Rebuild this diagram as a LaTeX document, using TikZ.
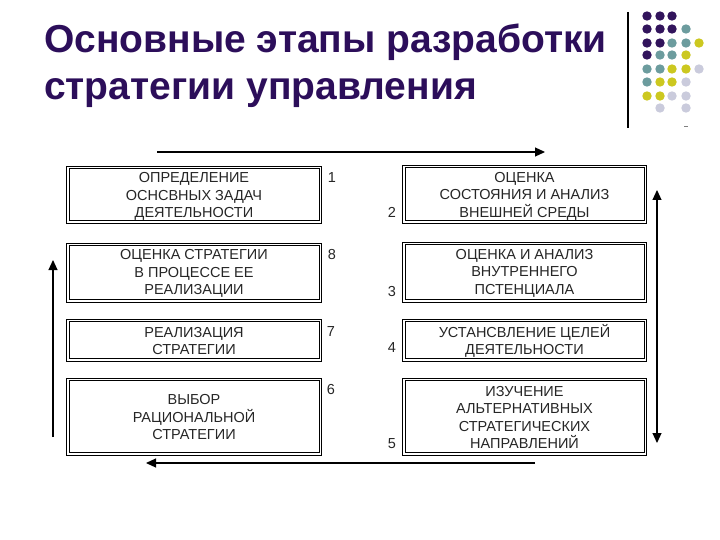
\documentclass[tikz,border=0pt]{standalone}
\usepackage{fontspec}
\setmainfont{Liberation Sans}
\usetikzlibrary{arrows.meta}
\definecolor{titlec}{RGB}{44,14,90}
\definecolor{dpurple}{RGB}{50,20,92}
\definecolor{dteal}{RGB}{108,156,158}
\definecolor{dyellow}{RGB}{204,200,32}
\definecolor{dlight}{RGB}{202,203,220}
\tikzset{
  stagebox/.style={draw=black, line width=0.8pt, inner sep=0pt},
  boxtext/.style={inner sep=0pt, align=center, font=\fontsize{14.5}{17.5}\selectfont, text=black!85},
  innerframe/.style={draw=black, line width=0.8pt},
  numlbl/.style={font=\fontsize{14.5}{17.5}\selectfont, text=black!85, inner sep=0pt},
  flowline/.style={line width=1.1pt, draw=black},
  tip/.style={-{Triangle[length=10pt,width=9pt]}},
  dotp/.style={fill=dpurple},
  dott/.style={fill=dteal},
  doty/.style={fill=dyellow},
  dotl/.style={fill=dlight}
}
\newcommand{\innerbox}[1]{\draw[innerframe] ([shift={(3,3)}]#1.north west) rectangle ([shift={(-3,-3)}]#1.south east);}
\begin{document}
\begin{tikzpicture}[x=1pt,y=-1pt]
\useasboundingbox (0,0) rectangle (720,540);
\fill[white] (0,0) rectangle (720,540);
% title
\node[anchor=base west, inner sep=0pt, text=titlec, font=\fontsize{39}{47}\bfseries\selectfont] (t1) at (44,53) {Основные этапы разработки};
\node[anchor=base west, inner sep=0pt, text=titlec, font=\fontsize{39}{47}\bfseries\selectfont] (t2) at (44,100) {стратегии управления};
% decorative line and dots
\draw[line width=1.2pt] (628,12) -- (628,128);
\draw[line width=0.6pt, black!50] (684,126) -- (688,126);
\foreach \x/\y/\s in {647/16/dotp,660/16/dotp,672/16/dotp,
  647/29/dotp,660/29/dotp,672/29/dotp,686/29/dott,
  647/43/dotp,660/43/dotp,672/43/dott,686/43/dott,699/43/doty,
  647/55/dotp,660/55/dott,672/55/dott,686/55/doty,
  647/69/dott,660/69/dott,672/69/doty,686/69/doty,699/69/dotl,
  647/82/dott,660/82/doty,672/82/doty,686/82/dotl,
  647/96/doty,660/96/doty,672/96/dotl,686/96/dotl,
  660/108/dotl,686/108/dotl}
  \fill[\s] (\x,\y) circle (4.7);
% boxes left (outer frames)
\node[stagebox, minimum width=255pt, minimum height=57pt] (b1) at (194,194.5) {};
\node[stagebox, minimum width=255pt, minimum height=59pt] (b8) at (194,272.5) {};
\node[stagebox, minimum width=255pt, minimum height=42pt] (b7) at (194,340) {};
\node[stagebox, minimum width=255pt, minimum height=77pt] (b6) at (194,416.5) {};
% boxes right
\node[stagebox, minimum width=244pt, minimum height=58pt] (b2) at (524.5,194) {};
\node[stagebox, minimum width=244pt, minimum height=60pt] (b3) at (524.5,272) {};
\node[stagebox, minimum width=244pt, minimum height=42pt] (b4) at (524.5,340) {};
\node[stagebox, minimum width=244pt, minimum height=77pt] (b5) at (524.5,416.5) {};
\innerbox{b1}\innerbox{b8}\innerbox{b7}\innerbox{b6}
\innerbox{b2}\innerbox{b3}\innerbox{b4}\innerbox{b5}
% box texts
\node[boxtext] (b1t) at ([yshift=-2pt]b1.center) {ОПРЕДЕЛЕНИЕ\\ОСНСВНЫХ ЗАДАЧ\\ДЕЯТЕЛЬНОСТИ};
\node[boxtext] (b8t) at ([yshift=-1pt]b8.center) {ОЦЕНКА СТРАТЕГИИ\\В ПРОЦЕССЕ ЕЕ\\РЕАЛИЗАЦИИ};
\node[boxtext] (b7t) at ([yshift=-1pt]b7.center) {РЕАЛИЗАЦИЯ\\СТРАТЕГИИ};
\node[boxtext] (b6t) at ([yshift=-1pt]b6.center) {ВЫБОР\\РАЦИОНАЛЬНОЙ\\СТРАТЕГИИ};
\node[boxtext] (b2t) at ([yshift=-2pt]b2.center) {ОЦЕНКА\\СОСТОЯНИЯ И АНАЛИЗ\\ВНЕШНЕЙ СРЕДЫ};
\node[boxtext] (b3t) at ([yshift=-1pt]b3.center) {ОЦЕНКА И АНАЛИЗ\\ВНУТРЕННЕГО\\ПСТЕНЦИАЛА};
\node[boxtext] (b4t) at ([yshift=-1pt]b4.center) {УСТАНСВЛЕНИЕ ЦЕЛЕЙ\\ДЕЯТЕЛЬНОСТИ};
\node[boxtext] (b5t) at ([yshift=-1pt]b5.center) {ИЗУЧЕНИЕ\\АЛЬТЕРНАТИВНЫХ\\СТРАТЕГИЧЕСКИХ\\НАПРАВЛЕНИЙ};
% numbers
\node[numlbl] (n1) at (332,178) {1};
\node[numlbl] (n8) at (332,255) {8};
\node[numlbl] (n7) at (331,332) {7};
\node[numlbl] (n6) at (331,390) {6};
\node[numlbl] (n2) at (392,212) {2};
\node[numlbl] (n3) at (392,292) {3};
\node[numlbl] (n4) at (392,348) {4};
\node[numlbl] (n5) at (392,444) {5};
% arrow coordinates
\coordinate (topS) at (157,152);
\coordinate (topE) at (545,152);
\coordinate (rgtA) at (657,190);
\coordinate (rgtB) at (657,443);
\coordinate (botS) at (535,463);
\coordinate (botE) at (146,463);
\coordinate (lftS) at (53,437);
\coordinate (lftE) at (53,260);
\draw[flowline, tip] (topS) -- (topE);
\draw[flowline, {Triangle[length=10pt,width=9pt]}-{Triangle[length=10pt,width=9pt]}] (rgtA) -- (rgtB);
\draw[flowline, tip] (botS) -- (botE);
\draw[flowline, tip] (lftS) -- (lftE);
\end{tikzpicture}
\end{document}
